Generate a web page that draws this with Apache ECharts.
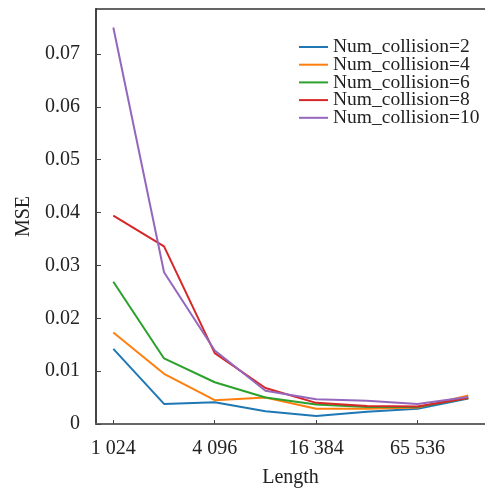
<!DOCTYPE html>
<html>
<head>
<meta charset="utf-8">
<script src="https://cdn.jsdelivr.net/npm/echarts@6/dist/echarts.min.js"></script>
<style>html,body{margin:0;padding:0;background:#fff}#c{width:485px;height:488px}</style>
</head>
<body>
<div id="c"></div>
<script>
var lengths = [1024, 2048, 4096, 8192, 16384, 32768, 65536, 131072];
var xTickValues = [1024, 4096, 16384, 65536];
var xTickLabels = ['1 024', '4 096', '16 384', '65 536'];
var seriesNames = ['Num_collision=2', 'Num_collision=4', 'Num_collision=6', 'Num_collision=8', 'Num_collision=10'];
var mse2 = [0.0142, 0.0038, 0.0041, 0.0024, 0.0015, 0.0023, 0.0029, 0.0048];
var mse4 = [0.0173, 0.0095, 0.0045, 0.0050, 0.0029, 0.0029, 0.0031, 0.0054];
var mse6 = [0.0269, 0.0124, 0.0079, 0.0050, 0.0037, 0.0032, 0.0032, 0.0049];
var mse8 = [0.0394, 0.0336, 0.0134, 0.0068, 0.0040, 0.0034, 0.0033, 0.0049];
var mse10 = [0.0750, 0.0287, 0.0139, 0.0063, 0.0047, 0.0044, 0.0038, 0.0051];
var colors = ['#1f77b4', '#ff7f0e', '#2ca02c', '#d62728', '#9467bd'];

var allData = [mse2, mse4, mse6, mse8, mse10];
var font = '"Liberation Serif", "Times New Roman", serif';

function pairs(vals) {
  return lengths.map(function (l, i) { return [l, vals[i]]; });
}

var series = allData.map(function (vals, i) {
  return {
    name: seriesNames[i],
    type: 'line',
    data: pairs(vals),
    showSymbol: false,
    symbol: 'none',
    smooth: false,
    lineStyle: { width: 2, color: colors[i] },
    itemStyle: { color: colors[i] },
    xAxisIndex: 0,
    yAxisIndex: 0,
    z: 3 + i
  };
});

var chart = echarts.init(document.getElementById('c'), null, { renderer: 'canvas' });
chart.setOption({
  animation: false,
  backgroundColor: '#fff',
  grid: { left: 96, right: 0, top: 9, bottom: 64, containLabel: false, outerBoundsMode: 'none' },
  legend: {
    orient: 'vertical',
    left: 299,
    top: 37,
    padding: 0,
    itemWidth: 29,
    itemHeight: 14,
    itemGap: -2.3,
    icon: 'path://M0,0 L29,0 L29,2 L0,2 Z',
    textStyle: { fontFamily: font, fontSize: 19.5, color: '#222' },
    data: seriesNames
  },
  xAxis: [{
    type: 'log',
    logBase: 4,
    min: 808,
    max: 164800,
    name: 'Length',
    nameLocation: 'middle',
    nameGap: 44,
    nameTextStyle: { fontFamily: font, fontSize: 20, color: '#222' },
    axisLine: { show: true, lineStyle: { color: '#666', width: 2 } },
    axisTick: { show: true, inside: true, length: 4, lineStyle: { color: '#444', width: 1 } },
    axisLabel: {
      fontFamily: font, fontSize: 20, color: '#222', margin: 15,
      showMinLabel: false, showMaxLabel: false,
      formatter: function (v) {
        var idx = xTickValues.indexOf(Math.round(v));
        return idx >= 0 ? xTickLabels[idx] : '';
      }
    },
    splitLine: { show: false },
    minorTick: { show: false }
  }, {
    type: 'value',
    position: 'top',
    min: 0, max: 1,
    axisLine: { show: true, onZero: false, lineStyle: { color: '#333', width: 1.5 } },
    axisTick: { show: false },
    axisLabel: { show: false },
    splitLine: { show: false }
  }],
  yAxis: {
    type: 'value',
    min: 0,
    max: 0.0785,
    interval: 0.01,
    name: 'MSE',
    nameLocation: 'middle',
    nameGap: 62,
    nameRotate: 90,
    nameTextStyle: { fontFamily: font, fontSize: 20, color: '#222' },
    axisLine: { show: true, lineStyle: { color: '#444', width: 2 } },
    axisTick: { show: true, inside: true, length: 5, lineStyle: { color: '#444', width: 1 } },
    axisLabel: {
      fontFamily: font, fontSize: 20, color: '#222', margin: 16,
      showMaxLabel: false,
      formatter: function (v) { return v === 0 ? '0' : v.toFixed(2); }
    },
    splitLine: { show: false }
  },
  series: series
});
</script>
</body>
</html>
